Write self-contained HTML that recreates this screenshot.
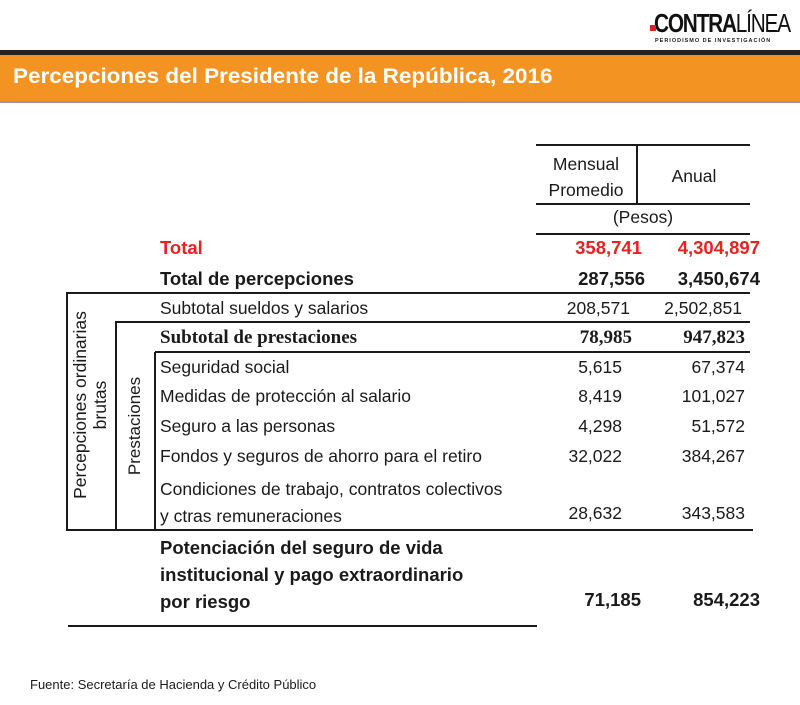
<!DOCTYPE html>
<html><head><meta charset="utf-8"><style>
body{margin:0;width:800px;height:705px;background:#fff;position:relative;overflow:hidden;font-family:"Liberation Sans",sans-serif;color:#1a1a1a}
.a{position:absolute;white-space:nowrap}
.t{font-size:17.5px;line-height:20px}
.b{font-weight:bold;font-size:18.5px}
.r{text-align:right}
.ln{position:absolute;background:#1a1a1a}
.v{position:absolute;transform:rotate(-90deg);transform-origin:center;font-size:17px;white-space:nowrap;text-align:center}
</style></head><body>
<div class="a" style="left:652px;top:8px;width:140px;height:40px">
 <div class="a" style="left:2px;top:0;font-size:26px;font-weight:bold;letter-spacing:-1.5px;color:#111;transform:scaleX(0.8);transform-origin:left">CONTRA<span style="font-weight:normal">LÍNEA</span></div>
 <div class="a" style="width:6px;height:6px;background:#e02020;top:17px;left:-2px"></div>
 <div class="a" style="left:3px;top:30px;font-size:5.5px;font-weight:bold;letter-spacing:1px">PERIODISMO DE INVESTIGACIÓN</div>
</div>
<div class="ln" style="left:0;top:50px;width:800px;height:5px;background:#222"></div>
<div class="a" style="left:0;top:55px;width:800px;height:46px;background:#f39322;border-bottom:2px solid #999"></div>
<div class="a" style="left:13px;top:65px;font-size:21px;font-weight:bold;color:#fff;transform:scaleX(1.07);transform-origin:left">Percepciones del Presidente de la República, 2016</div>

<div class="ln" style="left:536px;top:144px;width:214px;height:2px"></div>
<div class="ln" style="left:636px;top:145px;width:2px;height:59px"></div>
<div class="ln" style="left:536px;top:203px;width:214px;height:2px"></div>
<div class="ln" style="left:536px;top:233px;width:214px;height:2px"></div>
<div class="a t" style="left:536px;top:151px;width:100px;text-align:center;line-height:26px">Mensual<br>Promedio</div>
<div class="a t" style="left:638px;top:166px;width:112px;text-align:center">Anual</div>
<div class="a t" style="left:536px;top:207px;width:214px;text-align:center">(Pesos)</div>

<div class="a b" style="left:160px;top:237px;color:#e52421">Total</div>
<div class="a b r" style="right:158px;top:237px;color:#e52421">358,741</div>
<div class="a b r" style="right:40px;top:237px;color:#e52421">4,304,897</div>
<div class="a b" style="left:160px;top:268px">Total de percepciones</div>
<div class="a b r" style="right:155px;top:268px">287,556</div>
<div class="a b r" style="right:40px;top:268px">3,450,674</div>

<div class="ln" style="left:66px;top:292px;width:684px;height:2px"></div>
<div class="ln" style="left:115px;top:321px;width:635px;height:2px"></div>
<div class="ln" style="left:155px;top:351px;width:595px;height:2px"></div>
<div class="ln" style="left:66px;top:529px;width:687px;height:2px"></div>
<div class="ln" style="left:66px;top:293px;width:2px;height:238px"></div>
<div class="ln" style="left:115px;top:322px;width:2px;height:209px"></div>
<div class="ln" style="left:154px;top:352px;width:2px;height:179px"></div>
<div class="v" style="left:-10px;top:385px;width:200px;height:40px;line-height:20px;font-size:17.5px">Percepciones ordinarias<br>brutas</div>
<div class="v" style="left:65px;top:416px;width:140px;height:20px;line-height:20px">Prestaciones</div>

<div class="a t" style="left:160px;top:298px">Subtotal sueldos y salarios</div>
<div class="a t r" style="right:170px;top:298px">208,571</div>
<div class="a t r" style="right:58px;top:298px">2,502,851</div>
<div class="a" style="left:160px;top:327px;font-family:'Liberation Serif',serif;font-weight:bold;font-size:19px">Subtotal de prestaciones</div>
<div class="a r" style="right:168px;top:327px;font-family:'Liberation Serif',serif;font-weight:bold;font-size:19px">78,985</div>
<div class="a r" style="right:55px;top:327px;font-family:'Liberation Serif',serif;font-weight:bold;font-size:19px">947,823</div>

<div class="a t" style="left:160px;top:357px">Seguridad social</div>
<div class="a t r" style="right:178px;top:357px">5,615</div>
<div class="a t r" style="right:55px;top:357px">67,374</div>
<div class="a t" style="left:160px;top:386px">Medidas de protección al salario</div>
<div class="a t r" style="right:178px;top:386px">8,419</div>
<div class="a t r" style="right:55px;top:386px">101,027</div>
<div class="a t" style="left:160px;top:416px">Seguro a las personas</div>
<div class="a t r" style="right:178px;top:416px">4,298</div>
<div class="a t r" style="right:55px;top:416px">51,572</div>
<div class="a t" style="left:160px;top:446px">Fondos y seguros de ahorro para el retiro</div>
<div class="a t r" style="right:178px;top:446px">32,022</div>
<div class="a t r" style="right:55px;top:446px">384,267</div>
<div class="a t" style="left:160px;top:476px;line-height:27px">Condiciones de trabajo, contratos colectivos<br>y ctras remuneraciones</div>
<div class="a t r" style="right:178px;top:503px">28,632</div>
<div class="a t r" style="right:55px;top:503px">343,583</div>

<div class="a b" style="left:160px;top:534px;line-height:27px">Potenciación del seguro de vida<br>institucional y pago extraordinario<br>por riesgo</div>
<div class="a b r" style="right:159px;top:589px">71,185</div>
<div class="a b r" style="right:40px;top:589px">854,223</div>
<div class="ln" style="left:68px;top:625px;width:469px;height:2px"></div>

<div class="a" style="left:30px;top:677px;font-size:13px">Fuente: Secretaría de Hacienda y Crédito Público</div>
</body></html>
